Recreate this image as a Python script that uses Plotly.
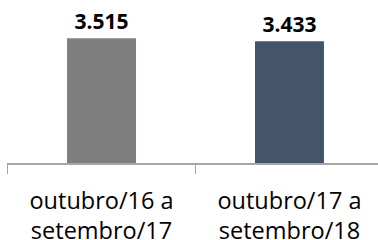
import plotly.graph_objects as go

categories = ["outubro/16 a<br>setembro/17", "outubro/17 a<br>setembro/18"]
values = [3515, 3433]
value_labels = ["3.515", "3.433"]
bar_colors = ["#7f7f7f", "#44546a"]

fig = go.Figure(
    go.Bar(
        x=categories,
        y=values,
        text=value_labels,
        textposition="outside",
        textfont=dict(family="Open Sans", size=21, color="#000000", weight="bold"),
        marker=dict(color=bar_colors, line=dict(width=0)),
        width=0.367,
        cliponaxis=False,
    )
)

fig.update_layout(
    width=378,
    height=240,
    margin=dict(l=7, r=0, t=21, b=77),
    paper_bgcolor="white",
    plot_bgcolor="white",
    showlegend=False,
    xaxis=dict(
        range=[-0.503, 1.471],
        automargin=False,
        showline=True,
        linecolor="#a6a6a6",
        linewidth=1.5,
        ticks="outside",
        tickson="boundaries",
        ticklen=9,
        tickcolor="#a6a6a6",
        tickwidth=1.5,
        ticklabelstandoff=16,
        tickfont=dict(family="Open Sans", size=23.5, color="#000000"),
        showgrid=False,
        zeroline=False,
        fixedrange=True,
    ),
    yaxis=dict(
        range=[0, 4000],
        visible=False,
        automargin=False,
        showgrid=False,
        zeroline=False,
        fixedrange=True,
    ),
)

fig.write_html(
    "out.html",
    config={"displayModeBar": False, "staticPlot": True},
    post_script="document.body.style.margin='0';document.body.style.overflow='hidden';",
)
